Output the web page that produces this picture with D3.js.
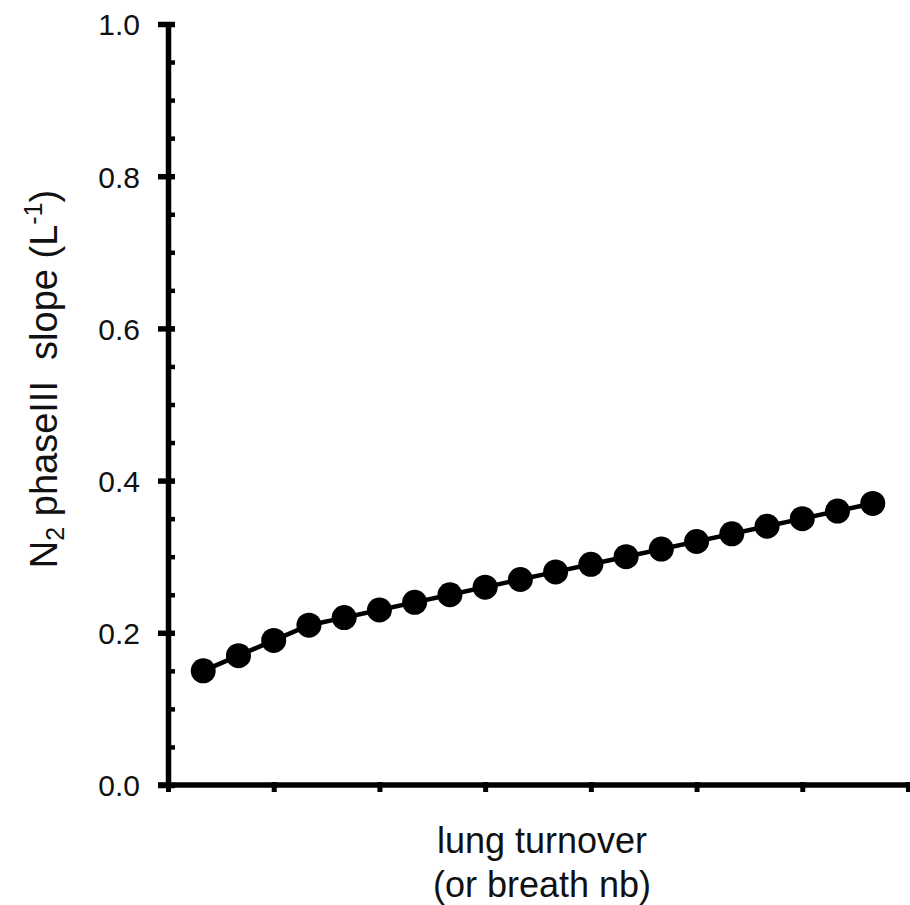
<!DOCTYPE html>
<html>
<head>
<meta charset="utf-8">
<script src="https://cdn.jsdelivr.net/npm/d3@7"></script>
<style>
  body { margin: 0; background: #fff; }
  svg { display: block; font-family: "Liberation Sans", Arial, sans-serif; }
</style>
</head>
<body>
<div id="chart"></div>
<script>
// breath number (lung turnover) and N2 phase III slope
var breaths = [1, 2, 3, 4, 5, 6, 7, 8, 9, 10, 11, 12, 13, 14, 15, 16, 17, 18, 19, 20];
var slopes = [0.15, 0.17, 0.19, 0.21, 0.22, 0.23, 0.24, 0.25, 0.26, 0.27,
              0.28, 0.29, 0.30, 0.31, 0.32, 0.33, 0.34, 0.35, 0.36, 0.37];
var yMajorTicks = [0, 0.2, 0.4, 0.6, 0.8, 1.0];
var yMinorTicks = d3.range(0, 1.0001, 0.05);
var xTicks = [0, 3, 6, 9, 12, 15, 18, 21];

var width = 910, height = 905;

var x = d3.scaleLinear().domain([0, 21]).range([168, 908]);
var y = d3.scaleLinear().domain([0, 1]).range([785, 24]);

var svg = d3.select("#chart")
    .append("svg")
    .attr("width", width)
    .attr("height", height);

// minor y ticks (right side of axis)
svg.append("g")
    .attr("transform", "translate(" + x(0) + ",0)")
    .call(d3.axisRight(y).tickValues(yMinorTicks).tickSize(7).tickSizeOuter(0).tickFormat(""))
    .call(function(g) { g.select(".domain").remove(); })
    .selectAll("line")
    .attr("stroke", "#000")
    .attr("stroke-width", 4.5);

// y axis with major ticks crossing the line
var yAxis = svg.append("g")
    .attr("transform", "translate(" + x(0) + ",0)")
    .call(d3.axisLeft(y).tickValues(yMajorTicks).tickSize(10).tickSizeOuter(0)
        .tickFormat(d3.format(".1f")));

yAxis.select(".domain")
    .attr("stroke", "#000")
    .attr("stroke-width", 5.5);
yAxis.selectAll(".tick line")
    .attr("x1", 7)
    .attr("x2", -10)
    .attr("stroke", "#000")
    .attr("stroke-width", 5.5);
yAxis.selectAll(".tick text")
    .attr("x", -28)
    .attr("dy", "0.36em")
    .attr("font-size", 30)
    .attr("font-family", "Liberation Sans, Arial, sans-serif")
    .attr("fill", "#111");

// x axis
var xAxis = svg.append("g")
    .attr("transform", "translate(0," + y(0) + ")")
    .call(d3.axisBottom(x).tickValues(xTicks).tickSize(7).tickSizeOuter(0).tickFormat(""));

xAxis.select(".domain").remove();
xAxis.append("line")
    .attr("x1", x(0) - 10)
    .attr("x2", width)
    .attr("stroke", "#000")
    .attr("stroke-width", 5.5);
xAxis.selectAll(".tick line")
    .attr("y1", -3)
    .attr("y2", 7)
    .attr("stroke", "#000")
    .attr("stroke-width", 5);

// connecting line
var points = breaths.map(function(b, i) { return [b, slopes[i]]; });
var line = d3.line()
    .x(function(d) { return x(d[0]); })
    .y(function(d) { return y(d[1]); });

svg.append("path")
    .datum(points)
    .attr("d", line)
    .attr("fill", "none")
    .attr("stroke", "#000")
    .attr("stroke-width", 4.5);

svg.selectAll(".dot")
    .data(points)
    .enter()
    .append("circle")
    .attr("class", "dot")
    .attr("cx", function(d) { return x(d[0]); })
    .attr("cy", function(d) { return y(d[1]); })
    .attr("r", 12.5)
    .attr("fill", "#000");

// x title
var xTitle = svg.append("text")
    .attr("text-anchor", "middle")
    .attr("font-size", 36)
    .attr("fill", "#111");
xTitle.append("tspan").attr("x", 542).attr("y", 853).text("lung turnover");
xTitle.append("tspan").attr("x", 542).attr("y", 897).text("(or breath nb)");

// y title
var yTitle = svg.append("text")
    .attr("transform", "translate(57,379) rotate(-90)")
    .attr("text-anchor", "middle")
    .attr("font-size", 38)
    .attr("fill", "#111")
    .style("white-space", "pre");
yTitle.append("tspan").text("N");
yTitle.append("tspan").attr("font-size", 25).attr("dy", 7).text("2");
yTitle.append("tspan").attr("dy", -7).text(" phaseIII  slope (L");
yTitle.append("tspan").attr("font-size", 25).attr("dy", -15).text("-1");
yTitle.append("tspan").attr("dy", 15).text(")");
</script>
</body>
</html>
